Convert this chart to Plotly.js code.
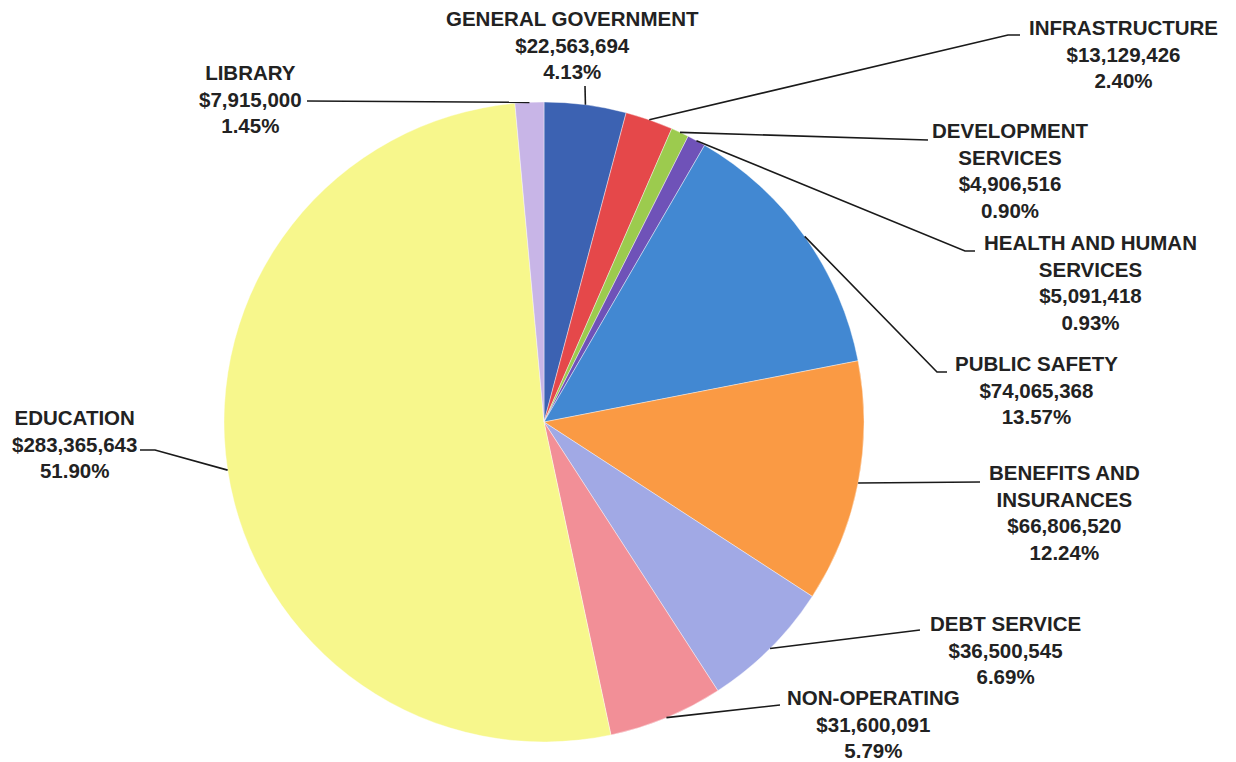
<!DOCTYPE html>
<html>
<head>
<meta charset="utf-8">
<script src="https://cdn.plot.ly/plotly-3.0.1.min.js"></script>
<style>
  html, body { margin: 0; padding: 0; background: #ffffff; }
  #chart { width: 1236px; height: 762px; }
</style>
</head>
<body>
<div id="chart"></div>
<script>
// ---- data ----
const categories = [
  "GENERAL GOVERNMENT", "INFRASTRUCTURE", "DEVELOPMENT SERVICES",
  "HEALTH AND HUMAN SERVICES", "PUBLIC SAFETY", "BENEFITS AND INSURANCES",
  "DEBT SERVICE", "NON-OPERATING", "EDUCATION", "LIBRARY"
];
const labelLines = [
  "GENERAL GOVERNMENT", "INFRASTRUCTURE", "DEVELOPMENT<br>SERVICES",
  "HEALTH AND HUMAN<br>SERVICES", "PUBLIC SAFETY", "BENEFITS AND<br>INSURANCES",
  "DEBT SERVICE", "NON-OPERATING", "EDUCATION", "LIBRARY"
];
const amounts = [
  22563694, 13129426, 4906516, 5091418, 74065368,
  66806520, 36500545, 31600091, 283365643, 7915000
];
const colors = [
  "#3c62b2", "#e5484a", "#9ccb4e", "#6f52b8", "#4288d2",
  "#fa9a44", "#a1a9e5", "#f28f97", "#f7f78c", "#c8b5e7"
];

// ---- layout constants (pixels) ----
const W = 1236, H = 762;
const CX = 544, CY = 422, R = 320;
// label block centers
const labelPos = [
  [572, 45], [1123, 54], [1010, 170], [1090, 283], [1036, 390],
  [1064, 512], [1005, 650], [873, 724], [74, 444], [250, 99]
];
// leader knee points (from label side toward pie)
const leaderPts = [
  [[585, 86]],
  [[1020, 35], [1008, 35]],
  [[928, 140]],
  [[975, 251], [965, 251]],
  [[947, 372], [937, 372]],
  [[980, 482]],
  [[920, 630]],
  [[780, 705]],
  [[140, 450], [155, 450]],
  [[307, 101]]
];

const total = amounts.reduce((a, b) => a + b, 0);
const px = x => x / W;
const py = y => 1 - y / H;
const fmtMoney = v => "$" + v.toLocaleString("en-US");

const annotations = [];
const shapes = [];
let cum = 0;
amounts.forEach((v, i) => {
  const mid = (cum + v / 2) / total * 2 * Math.PI;
  cum += v;
  const ex = CX + R * Math.sin(mid);
  const ey = CY - R * Math.cos(mid);
  const pct = (v / total * 100).toFixed(2) + "%";
  annotations.push({
    text: labelLines[i] + "<br>" + fmtMoney(amounts[i]) + "<br>" + pct,
    x: px(labelPos[i][0]), y: py(labelPos[i][1]),
    xref: "paper", yref: "paper",
    xanchor: "center", yanchor: "middle",
    showarrow: false, align: "center",
    font: { family: "Liberation Sans, Arial, sans-serif", size: 20.5, color: "#222222", weight: 700 }
  });
  let path = "";
  leaderPts[i].forEach((p, k) => {
    path += (k === 0 ? "M " : " L ") + px(p[0]) + " " + py(p[1]);
  });
  path += " L " + px(ex) + " " + py(ey);
  shapes.push({
    type: "path", xref: "paper", yref: "paper", path: path,
    line: { color: "#1a1a1a", width: 1.6 }
  });
});

const trace = {
  type: "pie",
  labels: categories,
  values: amounts,
  sort: false,
  direction: "clockwise",
  rotation: 0,
  textinfo: "none",
  hoverinfo: "label+value+percent",
  marker: { colors: colors, line: { color: "rgba(255,255,255,0.5)", width: 0.8 } },
  domain: { x: [(CX - R) / W, (CX + R) / W], y: [1 - (CY + R) / H, 1 - (CY - R) / H] },
  showlegend: false
};

const layout = {
  width: W, height: H,
  margin: { l: 0, r: 0, t: 0, b: 0 },
  paper_bgcolor: "#ffffff",
  showlegend: false,
  annotations: annotations,
  shapes: shapes
};

Plotly.newPlot("chart", [trace], layout, { displayModeBar: false, staticPlot: true });
</script>
</body>
</html>
